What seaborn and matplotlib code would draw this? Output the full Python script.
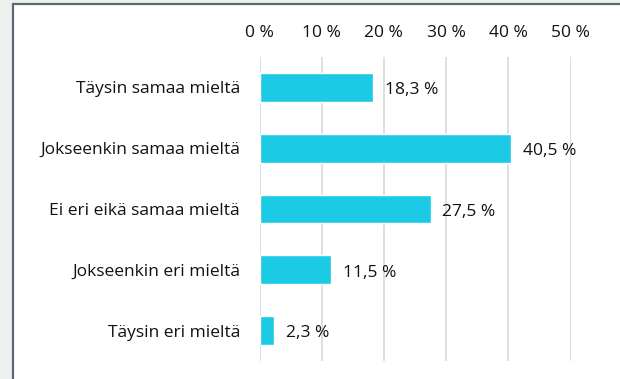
import matplotlib
matplotlib.use("Agg")
import matplotlib.pyplot as plt
from matplotlib.patches import Rectangle
import seaborn as sns
import pandas as pd

categories = [
    "Täysin samaa mieltä",
    "Jokseenkin samaa mieltä",
    "Ei eri eikä samaa mieltä",
    "Jokseenkin eri mieltä",
    "Täysin eri mieltä",
]
values = [18.3, 40.5, 27.5, 11.5, 2.3]
x_ticks = [0, 10, 20, 30, 40, 50]
x_tick_labels = ["0 %", "10 %", "20 %", "30 %", "40 %", "50 %"]

sns.set_style("white")
plt.rcParams["font.family"] = ["Open Sans", "DejaVu Sans"]

W, H = 620, 379
FS = 12.5
TXT = "#111111"
fig = plt.figure(figsize=(W / 100, H / 100), dpi=100, facecolor="#eef0ef")

# white chart panel with a dark frame on the left and top
panel = Rectangle((13 / W, -0.05), 1.05, 1 - 4 / H + 0.05,
                  transform=fig.transFigure, facecolor="white",
                  edgecolor="#5d6870", linewidth=1.6, zorder=-10)
fig.add_artist(panel)

left, right = 259.5 / W, 570.5 / W
top, bottom = 1 - 57 / H, 1 - 361 / H
ax = fig.add_axes([left, bottom, right - left, top - bottom])
ax.set_facecolor("none")
ax.set_zorder(5)

df = pd.DataFrame({"category": categories, "value": values})
sns.barplot(data=df, x="value", y="category", orient="h", color="#1bcbe6",
            saturation=1, width=0.475, ax=ax, zorder=3)

ax.set_xlim(0, 50)
ax.set_ylim(4.5, -0.5)
ax.set_xticks(x_ticks)
ax.set_xticklabels(x_tick_labels)
ax.xaxis.tick_top()
ax.tick_params(axis="x", length=0, pad=11.5, labelsize=FS, colors=TXT)
ax.tick_params(axis="y", length=0, pad=14, labelsize=FS, colors=TXT)
ax.set_xlabel("")
ax.set_ylabel("")
for s in ax.spines.values():
    s.set_visible(False)
ax.grid(axis="x", color="#d9d9d9", linewidth=1.2, zorder=0)
ax.set_axisbelow(True)

labels = [f"{v:.1f}".replace(".", ",") + " %" for v in values]
anns = ax.bar_label(ax.containers[0], labels=labels, padding=8.5,
                    fontsize=FS, color=TXT)
for a in anns:
    a.xyann = (8.5, -2)

fig.savefig("out.png", dpi=100, facecolor=fig.get_facecolor())
